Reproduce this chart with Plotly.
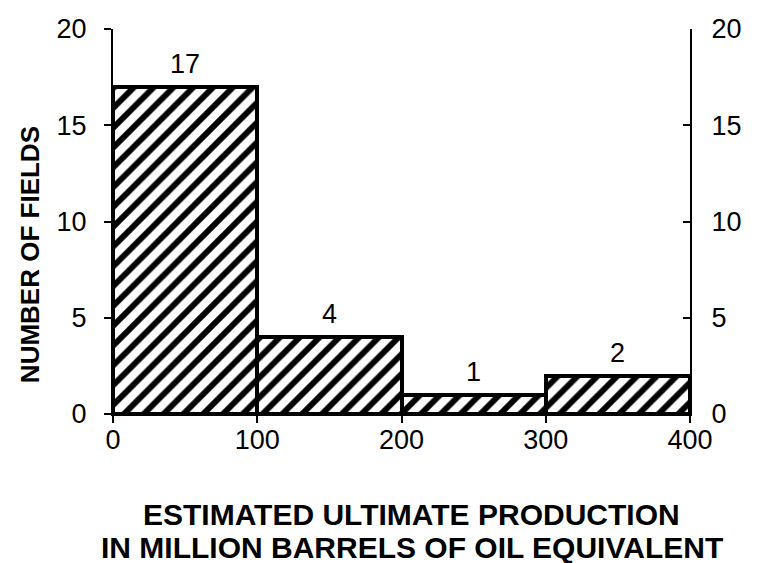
import plotly.graph_objects as go

bin_centers = [50, 150, 250, 350]
counts = [17, 4, 1, 2]
x_ticks = [0, 100, 200, 300, 400]
y_ticks = [0, 5, 10, 15, 20]
x_title_lines = ["ESTIMATED ULTIMATE PRODUCTION", "IN MILLION BARRELS OF OIL EQUIVALENT"]
y_title = "NUMBER OF FIELDS"

font = "Liberation Sans, Arial, sans-serif"

fig = go.Figure()
fig.add_trace(go.Bar(
    x=bin_centers, y=counts, width=100,
    marker=dict(color="white",
                line=dict(color="black", width=4),
                pattern=dict(shape="/", fgcolor="black", bgcolor="white",
                             fgopacity=1, size=14, solidity=0.42,
                             fillmode="overlay")),
    showlegend=False, hoverinfo="skip"))
fig.add_trace(go.Scatter(x=[0], y=[0], yaxis="y2", mode="markers",
                         marker=dict(opacity=0), showlegend=False, hoverinfo="skip"))

for xc, c in zip(bin_centers, counts):
    fig.add_annotation(x=xc, y=c, text=str(c), showarrow=False,
                       yanchor="bottom", yshift=6,
                       font=dict(family=font, size=27, color="black"))

fig.add_annotation(xref="paper", yref="paper", x=-0.144, y=0.415,
                   text="<b>" + y_title + "</b>", textangle=-90, showarrow=False,
                   xanchor="center", yanchor="middle",
                   font=dict(family=font, size=26, color="black"))
for line, ypos in zip(x_title_lines, [-0.2623, -0.3455]):
    fig.add_annotation(xref="paper", yref="paper", x=0.518, y=ypos,
                       text="<b>" + line + "</b>", showarrow=False,
                       xanchor="center", yanchor="middle",
                       font=dict(family=font, size=30, color="black"))

axis_common = dict(tickwidth=2, tickcolor="black", showline=True, linecolor="black",
                   linewidth=2, showgrid=False, zeroline=False, automargin=False,
                   tickfont=dict(size=27), ticklen=7)

fig.update_layout(
    width=757, height=563,
    margin=dict(l=105, r=75, t=21, b=157),
    paper_bgcolor="white", plot_bgcolor="white",
    bargap=0,
    font=dict(family=font, color="black"),
    xaxis=dict(range=[0, 400], tickvals=x_ticks, ticks="outside",
               ticklabelstandoff=-6, **axis_common),
    yaxis=dict(range=[0, 20], tickvals=y_ticks, ticks="outside",
               ticklabelstandoff=12, **axis_common),
    yaxis2=dict(range=[0, 20], tickvals=y_ticks, overlaying="y", side="right",
                ticks="inside", ticklabelstandoff=14, **axis_common),
)

fig.write_html("out.html")
